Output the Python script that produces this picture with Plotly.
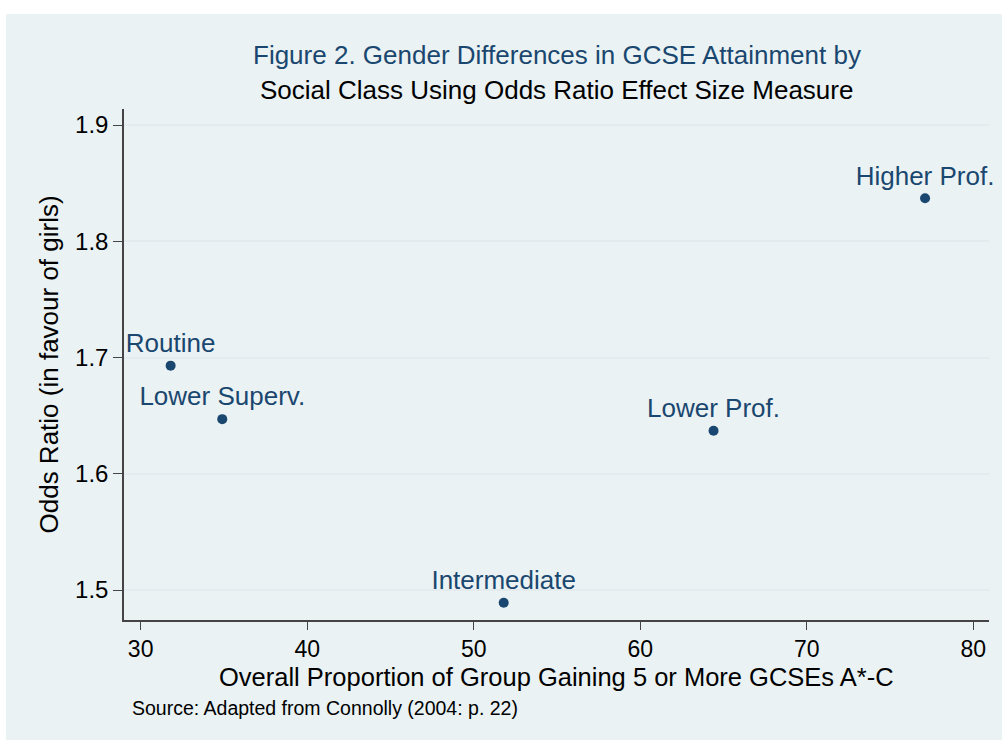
import plotly.graph_objects as go

classes = ["Higher Prof.", "Lower Prof.", "Intermediate", "Lower Superv.", "Routine"]
proportion = [77.1, 64.4, 51.8, 34.9, 31.8]
odds_ratio = [1.837, 1.637, 1.489, 1.647, 1.693]

x_ticks = [30, 40, 50, 60, 70, 80]
y_ticks = [1.5, 1.6, 1.7, 1.8, 1.9]

W, H = 1002, 740
L, R, T, B = 124, 13, 109, 120
pw, ph = W - L - R, H - T - B

def px(xpix):
    return (xpix - L) / pw

def py(ypix):
    return (H - B - ypix) / ph

FONT = "Liberation Sans, Arial, sans-serif"
BLUE = "#1a476f"
BG = "#eaf2f3"

fig = go.Figure()
fig.add_trace(go.Scatter(
    x=proportion, y=odds_ratio, text=classes,
    mode="markers+text", textposition="top center",
    marker=dict(color=BLUE, size=10),
    textfont=dict(family=FONT, size=26, color=BLUE),
    cliponaxis=False, hoverinfo="skip",
))

fig.update_layout(
    width=W, height=H,
    margin=dict(l=L, r=R, t=T, b=B, autoexpand=False),
    paper_bgcolor="white",
    plot_bgcolor="white",
    showlegend=False,
    font=dict(family=FONT, color="black"),
    shapes=[dict(type="rect", xref="paper", yref="paper",
                 x0=px(6), x1=px(W), y0=py(H), y1=py(14),
                 fillcolor=BG, line=dict(width=0), layer="below")],
    xaxis=dict(
        range=[29.0, 80.94], tickvals=x_ticks, automargin=False,
        showgrid=False, zeroline=False,
        showline=True, linecolor="#444444", linewidth=1.5,
        ticks="outside", ticklen=8, tickcolor="#444444",
        tickfont=dict(family=FONT, size=23, color="black"),
    ),
    yaxis=dict(
        range=[1.4742, 1.9138], tickvals=y_ticks, tickformat=".1f", automargin=False,
        showgrid=True, gridcolor="#e3ebee", gridwidth=1.5, zeroline=False,
        showline=True, linecolor="#444444", linewidth=1.5,
        ticks="outside", ticklen=9, tickcolor="#444444",
        tickfont=dict(family=FONT, size=24, color="black"),
    ),
    annotations=[
        dict(text="Figure 2. Gender Differences in GCSE Attainment by",
             xref="paper", yref="paper", x=0.5, y=py(55), showarrow=False,
             xanchor="center", yanchor="middle",
             font=dict(family=FONT, size=26, color=BLUE)),
        dict(text="Social Class Using Odds Ratio Effect Size Measure",
             xref="paper", yref="paper", x=0.5, y=py(90), showarrow=False,
             xanchor="center", yanchor="middle",
             font=dict(family=FONT, size=26, color="black")),
        dict(text="Overall Proportion of Group Gaining 5 or More GCSEs A*-C",
             xref="paper", yref="paper", x=0.5, y=py(677), showarrow=False,
             xanchor="center", yanchor="middle",
             font=dict(family=FONT, size=25.5, color="black")),
        dict(text="Odds Ratio (in favour of girls)", textangle=-90,
             xref="paper", yref="paper", x=px(48), y=0.5, showarrow=False,
             xanchor="center", yanchor="middle",
             font=dict(family=FONT, size=26, color="black")),
        dict(text="Source: Adapted from Connolly (2004: p. 22)",
             xref="paper", yref="paper", x=px(130), y=py(708), showarrow=False,
             xanchor="left", yanchor="middle",
             font=dict(family=FONT, size=19.5, color="black")),
    ],
)

fig.write_html("out.html", config={"displayModeBar": False},
               post_script="document.body.style.margin='0';document.body.style.overflow='hidden';")
